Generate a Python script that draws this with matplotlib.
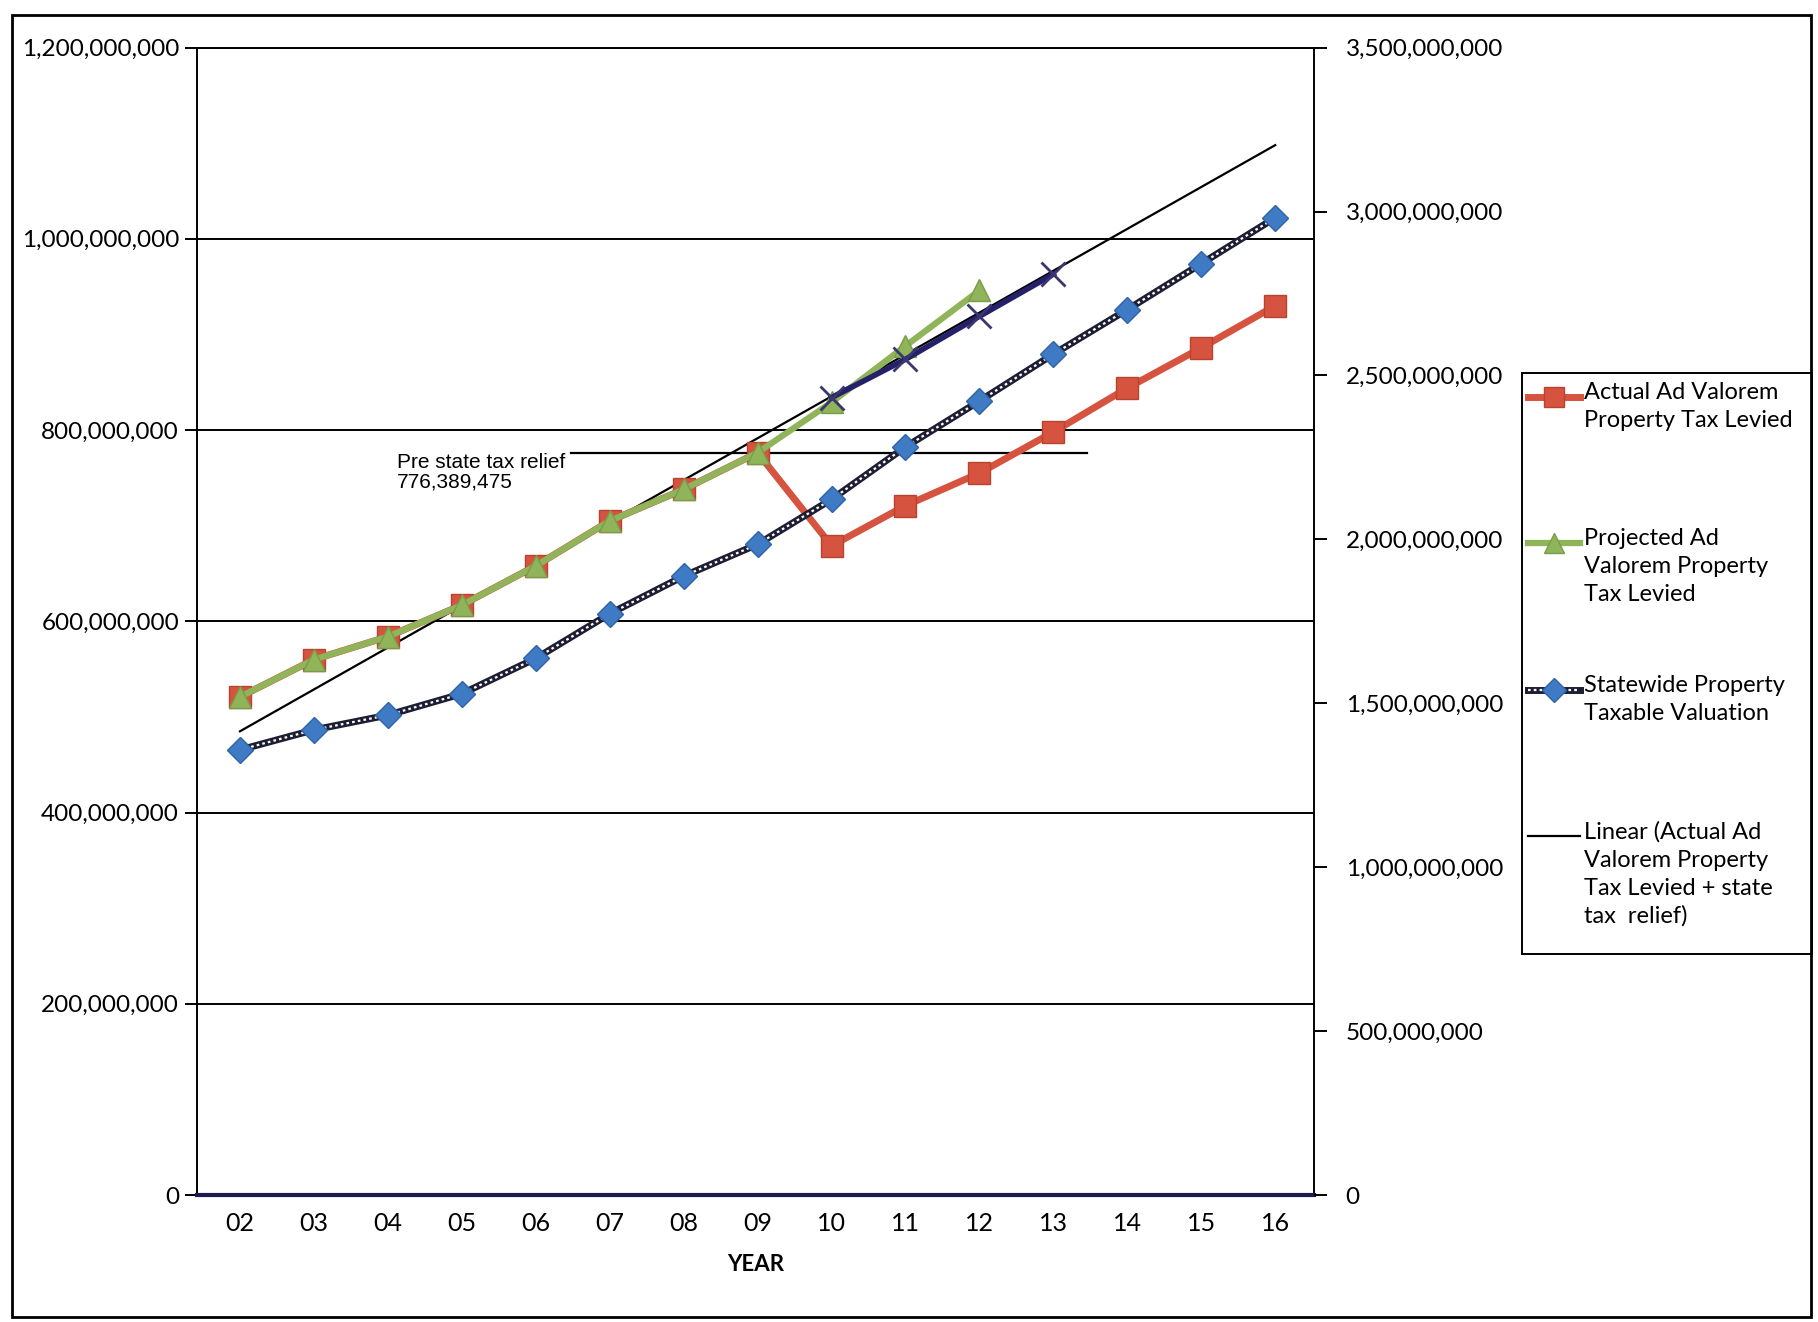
import matplotlib.pyplot as plt
from matplotlib.lines import Line2D
from matplotlib.patches import Rectangle
from matplotlib.ticker import FuncFormatter

# fiscal years 2002-2016
years = list(range(2, 17))
year_labels = ['02', '03', '04', '05', '06', '07', '08', '09',
               '10', '11', '12', '13', '14', '15', '16']

# actual ad valorem property tax levied
actual = [521e6, 560e6, 584e6, 617e6, 658e6, 705e6, 738e6, 776.389475e6,
          679e6, 721e6, 755e6, 798e6, 844e6, 886e6, 930e6]

# projected levy (no state tax relief)
proj_years = list(range(2, 13))
projected = [521e6, 560e6, 584e6, 617e6, 658e6, 705e6, 738e6, 776.389475e6,
             829e6, 888e6, 946e6]

# actual levy + state tax relief
relief_years = [10, 11, 12, 13]
with_relief = [834e6, 874e6, 919e6, 963e6]

# statewide taxable valuation (right axis)
valuation = [1358e6, 1419e6, 1464e6, 1529e6, 1637e6, 1773e6, 1888e6, 1985e6,
             2122e6, 2282e6, 2422e6, 2565e6, 2701e6, 2841e6, 2981e6]

# linear trend end points
trend_years = [2, 16]
trend_vals = [485e6, 1098e6]

pre_relief = 776389475

RED = '#d6533f'
GREEN = '#8fb45a'
BLUE = '#3f7ac4'
NAVY = '#24206a'
CHAIN = '#1d1d33'

plt.rcParams['font.family'] = ['Lato', 'DejaVu Sans']

fig = plt.figure(figsize=(18.18, 13.22), dpi=100)
ax = fig.add_axes([0.1084, 0.096, 0.6142, 0.868])

comma = FuncFormatter(lambda v, p: '{:,.0f}'.format(v))

# gridlines
for g in range(200_000_000, 1_200_000_001, 200_000_000):
    ax.axhline(g, color='black', lw=1.4, zorder=1)

ax.plot(trend_years, trend_vals, color='black', lw=1.6, zorder=2)
ax.plot(years, actual, color=RED, lw=5, marker='s', ms=16,
        mfc=RED, mec='#b8432f', zorder=3)
ax.plot(proj_years, projected, color=GREEN, lw=4.5, marker='^', ms=16,
        mfc=GREEN, mec='#7a9c48', zorder=4)
ax.plot(relief_years, with_relief, color=NAVY, lw=4, marker='x', ms=17,
        mew=2, mec='#3a3670', zorder=5)

# pre state tax relief reference line
ax.plot([6.47, 13.45], [pre_relief, pre_relief], color='black', lw=1.6, zorder=2)
ax.text(4.12, pre_relief, 'Pre state tax relief\n{:,}'.format(pre_relief),
        family='Liberation Sans', fontsize=15, va='top', ha='left',
        linespacing=1.05, zorder=6)

ax.set_xlim(1.42, 16.52)
ax.set_ylim(0, 1_200_000_000)
ax.set_yticks(range(0, 1_200_000_001, 200_000_000))
ax.yaxis.set_major_formatter(comma)
ax.set_xticks(years)
ax.set_xticklabels(year_labels)
ax.tick_params(axis='x', length=0, pad=12, labelsize=18)
ax.tick_params(axis='y', length=9, width=1.4, direction='out', pad=4, labelsize=17.5)
ax.set_xlabel('YEAR', fontsize=16, fontweight='bold', labelpad=14)

for s in ['left', 'right', 'top']:
    ax.spines[s].set_linewidth(1.4)
ax.spines['bottom'].set_linewidth(3)
ax.spines['bottom'].set_color('#1b1b4d')

# right axis: statewide valuation
ax2 = ax.twinx()
ax2.plot(years, valuation, color=CHAIN, lw=5, zorder=3)
ax2.plot(years, valuation, color='white', lw=1.6, dashes=(1.2, 1.4), zorder=4)
ax2.plot(years, valuation, ls='none', marker='D', ms=13, mfc=BLUE,
         mec='#2f63a8', zorder=5)
ax2.set_ylim(0, 3_500_000_000)
ax2.set_yticks(range(0, 3_500_000_001, 500_000_000))
ax2.yaxis.set_major_formatter(comma)
ax2.tick_params(axis='y', length=9, width=1.4, direction='out', pad=14, labelsize=17.5)
for s in ax2.spines.values():
    s.set_visible(False)

# legend box
lg = fig.add_axes([0.8372, 0.2784, 0.1595, 0.4395])
lg.set_xlim(0, 1)
lg.set_ylim(0, 1)
lg.set_xticks([])
lg.set_yticks([])
for s in lg.spines.values():
    s.set_linewidth(1.4)

entries = [
    ('Actual Ad Valorem\nProperty Tax Levied',
     dict(color=RED, lw=5, marker='s', ms=14, mfc=RED, mec='#b8432f')),
    ('Projected Ad\nValorem Property\nTax Levied',
     dict(color=GREEN, lw=4.5, marker='^', ms=14, mfc=GREEN, mec='#7a9c48')),
    ('Statewide Property\nTaxable Valuation',
     dict(color=CHAIN, lw=5, marker='D', ms=12, mfc=BLUE, mec='#2f63a8')),
    ('Linear (Actual Ad\nValorem Property\nTax Levied + state\ntax  relief)',
     dict(color='black', lw=1.6)),
]
entry_y = [0.9587, 0.7074, 0.4544, 0.2031]
hx = [0.02, 0.11, 0.20]
for (label, style), y in zip(entries, entry_y):
    line_style = {k: v for k, v in style.items() if k in ('color', 'lw')}
    lg.add_line(Line2D(hx, [y] * 3, **line_style))
    if style['color'] == CHAIN:
        lg.add_line(Line2D(hx, [y] * 3, color='white', lw=1.6, dashes=(1.2, 1.4)))
    if 'marker' in style:
        lg.add_line(Line2D([hx[1]], [y], ls='none', marker=style['marker'],
                           ms=style['ms'], mfc=style['mfc'], mec=style['mec']))
    lg.text(0.215, y + 0.025, label, fontsize=17, va='top', ha='left',
            linespacing=1.4)

# outer frame
fig.patches.append(Rectangle((0.0064, 0.0038), 0.9896, 0.985, transform=fig.transFigure,
                             fill=False, edgecolor='black', lw=2))

fig.savefig('out.png', dpi=100)
